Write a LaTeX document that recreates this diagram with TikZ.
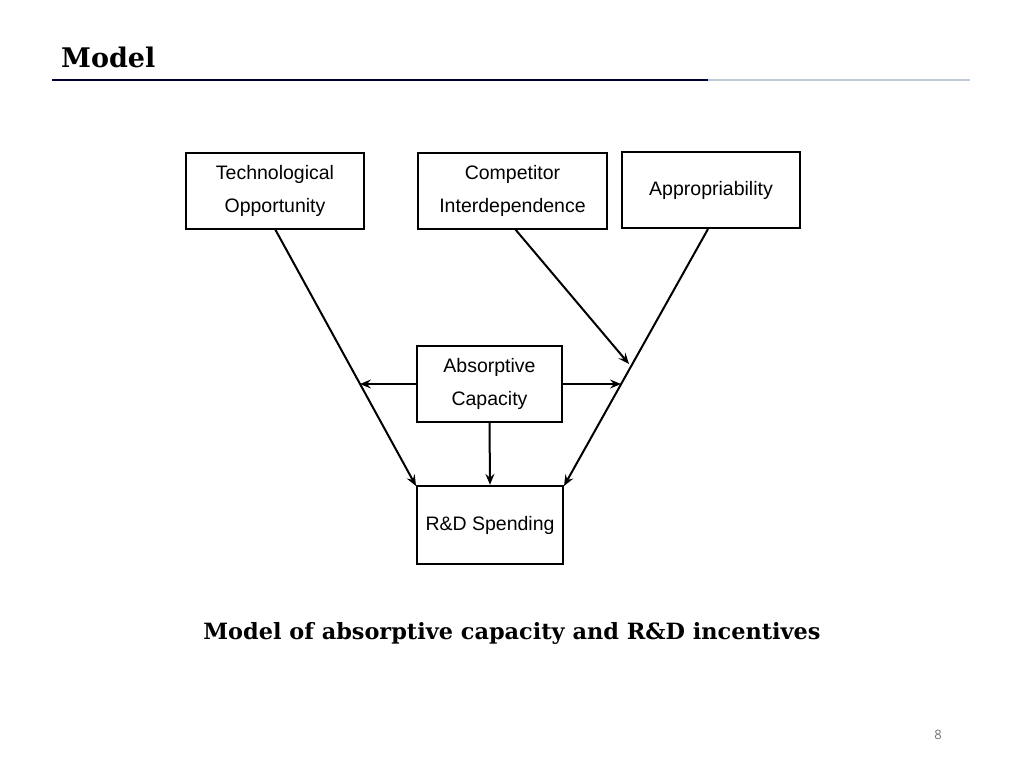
\documentclass[tikz,border=0pt]{standalone}
\usepackage{fontspec}
\setmainfont{DejaVu Serif}
\newfontfamily\boxfont{Liberation Sans}
\newfontfamily\numfont{Open Sans}
\usetikzlibrary{arrows.meta}
\begin{document}
\begin{tikzpicture}[x=1pt,y=-1pt,
  bx/.style={draw,line width=2.4pt,inner sep=0pt,font=\boxfont\fontsize{19.5}{33}\selectfont,align=center},
  ar/.style={line width=2pt,-{Stealth[length=11pt,width=9pt,inset=4pt]}}]
\useasboundingbox (0,0) rectangle (1024,768);
\node[font=\bfseries\fontsize{27}{30}\selectfont,anchor=west,inner sep=0pt] (title) at (61,57) {Model};
\draw[line width=1.5pt,color=black!80!blue] (52,80) -- (708,80);
\draw[line width=1.5pt,color={rgb,255:red,190;green,200;blue,212}] (708,80) -- (970,80);
\node[bx,minimum width=178pt,minimum height=76pt] (to) at (275,191) {Technological\\Opportunity};
\node[bx,minimum width=189pt,minimum height=76pt] (ci) at (512.5,191) {Competitor\\Interdependence};
\node[bx,minimum width=178pt,minimum height=76pt] (ap) at (711,190) {Appropriability};
\node[bx,minimum width=145pt,minimum height=76pt] (ac) at (489.5,384) {Absorptive\\Capacity};
\node[bx,minimum width=146pt,minimum height=78pt] (rd) at (490,525) {R\&D Spending};
\coordinate (tob) at (275,229);
\coordinate (apb) at (708,229);
\coordinate (cib) at (515,229);
\coordinate (rdl) at (416,486);
\coordinate (rdr) at (564,486);
\coordinate (jl) at (360,384);
\coordinate (jr) at (621,384);
\coordinate (jc) at (629,364);
\draw[ar] (tob) -- (rdl);
\draw[ar] (apb) -- (rdr);
\draw[ar] (cib) -- (jc);
\draw[ar] (ac.west) -- (jl);
\draw[ar] (ac.east) -- (jr);
\draw[ar] (ac.south) -- (rd.north);
\node[font=\bfseries\fontsize{22.4}{26}\selectfont] (cap) at (512,633) {Model of absorptive capacity and R\&D incentives};
\node[font=\numfont\fontsize{13}{15}\selectfont,text=black!55] (pg) at (938,735) {8};
\end{tikzpicture}
\end{document}
